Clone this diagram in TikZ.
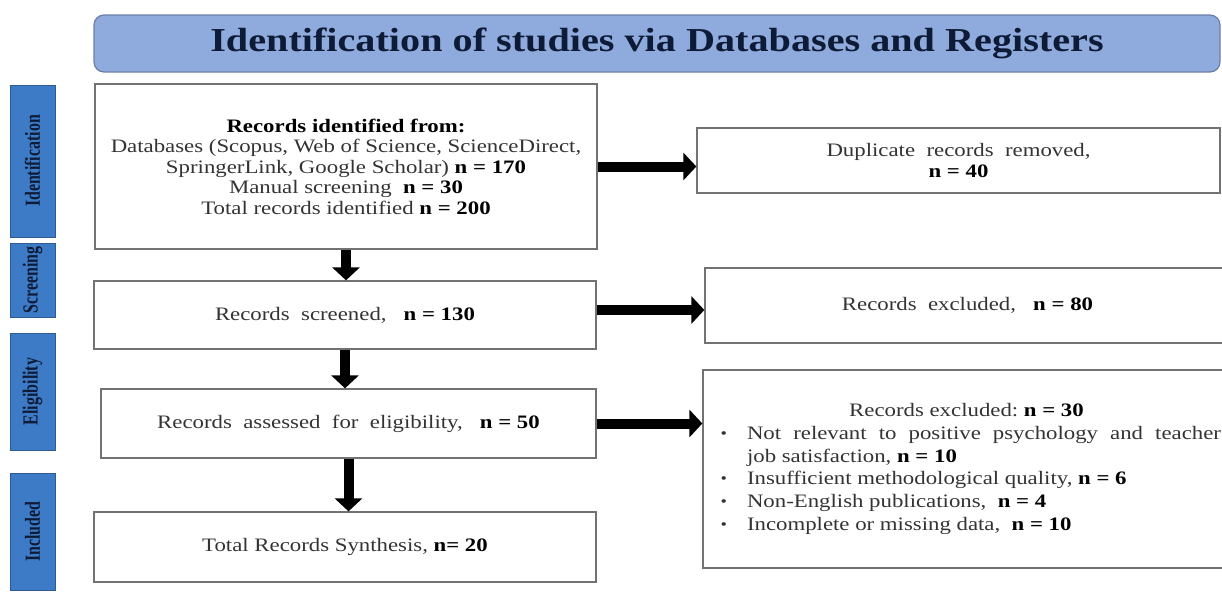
\documentclass[tikz,border=0pt]{standalone}
\usepackage{fontspec}
\setmainfont{Liberation Serif}[FakeStretch=1.2]
\newfontfamily\stagefont{Liberation Serif}[FakeStretch=0.74]
\usepackage{enumitem}
\usetikzlibrary{arrows.meta,calc,positioning}
\definecolor{bannerCol}{HTML}{8FAADC}
\definecolor{bannerEdge}{HTML}{6B7FA6}
\definecolor{stageCol}{HTML}{3D7BC7}
\definecolor{stageEdge}{HTML}{2D5C94}
\definecolor{inkCol}{HTML}{0E1B36}
\definecolor{txtCol}{HTML}{333333}
\definecolor{boxEdge}{HTML}{727272}
\newcommand{\nn}[1]{\textbf{\color{black}n = #1}}
\tikzset{
  banner/.style={draw=bannerEdge, fill=bannerCol, rounded corners=10pt, line width=1.2pt,
                 minimum width=1126pt, minimum height=57pt,
                 font=\bfseries\fontsize{33.5}{36}\selectfont, text=inkCol},
  stage/.style={draw=stageEdge, fill=stageCol, rotate=90, line width=1pt,
                minimum width=#1, minimum height=45pt, inner sep=0pt,
                font=\stagefont\bfseries\fontsize{21.5}{24}\selectfont, text=inkCol},  % phase tab on the left
  rec/.style={draw=boxEdge, line width=1.3pt, inner sep=0pt, align=center,
              font=\fontsize{19}{20.5}\selectfont, text=txtCol},                     % record box
  flow/.style={-{Triangle[length=13pt,width=27pt]}, line width=10pt, black},         % heavy block arrow
}

\begin{document}
\begin{tikzpicture}[x=1pt,y=-1pt]
  \useasboundingbox (0,0) rectangle (1222,600);

  \node[banner] (title) at (657,43.5) {Identification of studies via Databases and Registers};

  % phase tabs
  \node[stage=152pt] (tabid)  at (32.5,161)   {Identification};
  \node[stage=74pt]  (tabscr) at (32.5,280)   {Screening};
  \node[stage=117pt] (tabel)  at (32.5,391.5) {Eligibility};
  \node[stage=117pt] (tabinc) at (32.5,531.5) {Included};

  % main column
  \node[rec, minimum width=502pt, minimum height=165pt] (ident) at (346,166.5)
    {\textbf{\color{black}Records identified from:}\\
     Databases (Scopus, Web of Science, ScienceDirect,\\
     SpringerLink, Google Scholar) \nn{170}\\
     Manual screening\ \ \nn{30}\\
     Total records identified \nn{200}};
  \node[rec, minimum width=502pt, minimum height=68pt] (scr) at (345,315)
    {Records\ \ screened,\ \ \ \nn{130}};
  \node[rec, minimum width=495pt, minimum height=69pt] (elig) at (348.5,423.5)
    {Records\ \ assessed\ \ for\ \ eligibility,\ \ \ \nn{50}};
  \node[rec, minimum width=502pt, minimum height=70pt] (incl) at (345,547)
    {Total\ Records\ Synthesis,\ \textbf{\color{black}n= 20}};

  % side column
  \node[rec, minimum width=523pt, minimum height=65pt] (dup) at (958.5,160.5)
    {Duplicate\ \ records\ \ removed,\\ \nn{40}};
  \node[rec, minimum width=525pt, minimum height=75pt] (exa) at (967.5,305.5)
    {Records\ \ excluded,\ \ \ \nn{80}};
  \node[rec, minimum width=527pt, minimum height=198pt, text width=509pt, align=justify,
        font=\fontsize{19}{22.7}\selectfont] (exb) at (966.5,469)
    {{\centering Records excluded:\ \nn{30}\par}
     \begin{itemize}[nosep,leftmargin=35pt,labelsep=20pt,label=\raisebox{1pt}{\scalebox{0.8}{\textbullet}}]
       \item Not relevant to positive psychology and teacher\linebreak job satisfaction, \nn{10}
       \item Insufficient methodological quality, \nn{6}
       \item Non-English publications,\ \ \nn{4}
       \item Incomplete or missing data,\ \ \nn{10}
     \end{itemize}};

  % arrows
  \draw[flow] (ident.south) -- (ident.south |- scr.north);
  \draw[flow] (scr.south)   -- (scr.south |- elig.north);
  \draw[flow] (elig.south)  -- (elig.south |- incl.north);
  \draw[flow] (ident.east)  -- (ident.east -| dup.west);
  \draw[flow] ([yshift=5pt]scr.east) -- ([yshift=5pt]scr.east -| exa.west);
  \draw[flow] (elig.east)   -- (elig.east -| exb.west);
\end{tikzpicture}
\end{document}
